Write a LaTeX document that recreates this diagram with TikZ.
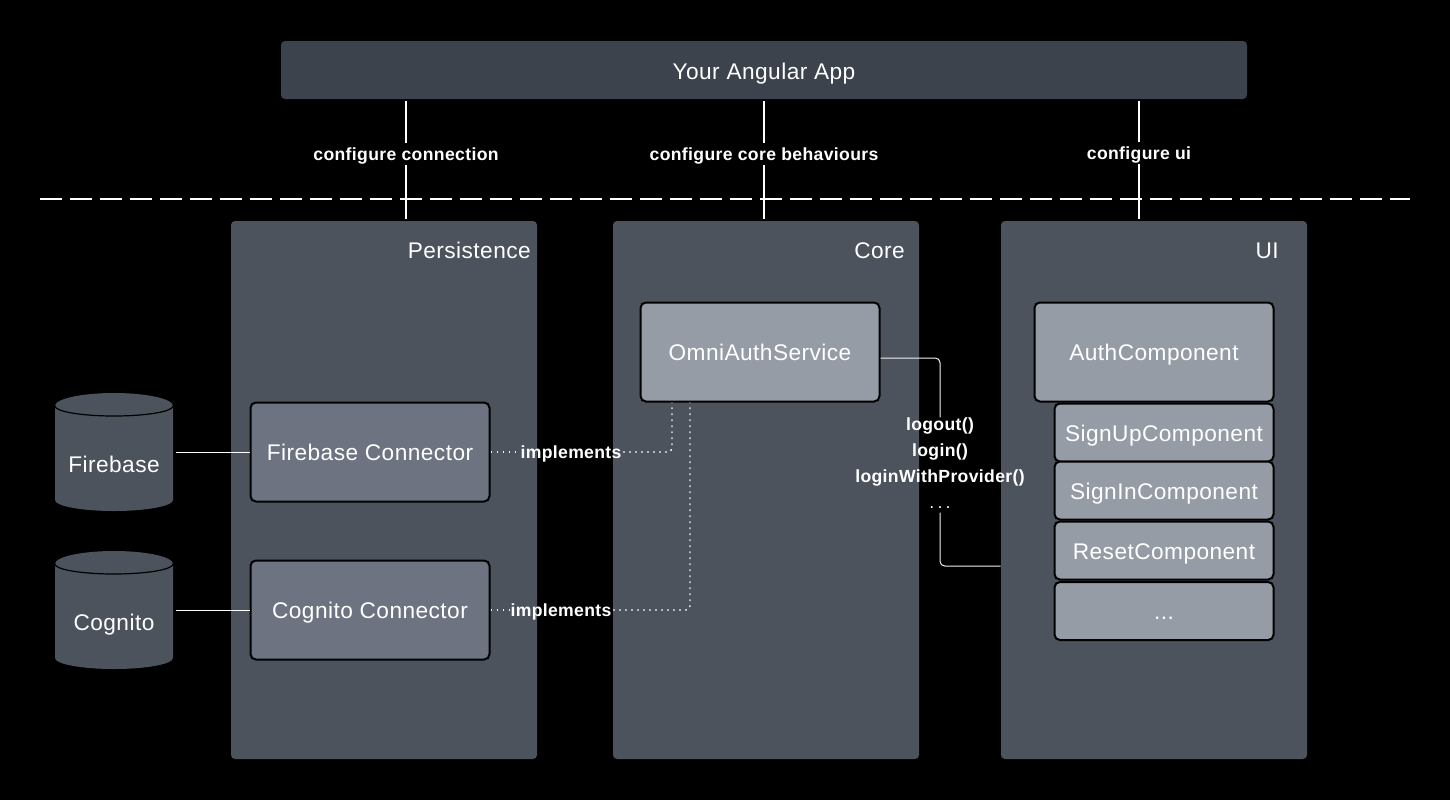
\documentclass[tikz,border=0pt]{standalone}
\usepackage{fontspec}
\setmainfont{Liberation Sans}
\newfontfamily\regfont[LetterSpace=2.0]{Liberation Sans}
\newfontfamily\boldfont[LetterSpace=2.0]{Liberation Sans Bold}
\definecolor{appc}{HTML}{3C434D}
\definecolor{panelc}{HTML}{4C535D}
\definecolor{connc}{HTML}{6D7380}
\definecolor{svcc}{HTML}{969CA6}
\definecolor{linec}{HTML}{F0F1F2}
\tikzset{
  sz/.style 2 args={minimum width=#1*0.75pt,minimum height=#2*0.75pt,inner sep=0pt},
  mainfont/.style={text=white,text height=12pt,text depth=0pt,font=\regfont\fontsize{17pt}{20pt}\selectfont},
  panelbox/.style={fill=panelc,rounded corners=3pt,sz={306}{538}},
  appbox/.style={fill=appc,rounded corners=3pt,sz={966}{58},mainfont,text height=13.5pt},
  inbox/.style={draw=black,line width=1.5pt,rounded corners=4pt,mainfont},
  connbox/.style={inbox,fill=connc,sz={239}{99}},
  svcbox/.style={inbox,fill=svcc,sz={239}{99}},
  subbox/.style={inbox,fill=svcc,sz={219}{#1},text height=13.5pt},
  paneltitle/.style={mainfont,anchor=east,inner sep=0pt},
  dbtext/.style={mainfont,inner sep=0pt},
  dbanchor/.style={sz={120}{118}},
  lab/.style={text=white,inner ysep=1.6pt,inner xsep=1pt,text height=11pt,text depth=1.5pt,font=\boldfont\fontsize{13.2pt}{19.5pt}\selectfont},
  methlab/.style={text=white,inner sep=0pt,align=center,font=\boldfont\fontsize{13.2pt}{19.5pt}\selectfont},
  solidline/.style={draw=white,line width=0.8pt},
  vline/.style={draw=white,line width=1.2pt},
  thinline/.style={draw=linec,line width=0.75pt,rounded corners=3.5pt},
  dottedline/.style={draw=linec,line width=1.1pt,dash pattern=on 1.3pt off 3.2pt,rounded corners=3pt},
}
\newcommand{\dbshape}[2]{% top y, centre x
  \fill[panelc] (#2-59,#1+13) arc[start angle=180,end angle=360,x radius=59,y radius=13]
    -- (#2+59,#1+107) arc[start angle=0,end angle=180,x radius=59,y radius=11] -- cycle;
  \draw[black,line width=0.9pt] (#2-59,#1+13) arc[start angle=180,end angle=0,x radius=59,y radius=10];
}
\begin{document}
\begin{tikzpicture}[x=0.75pt,y=-0.75pt]
\useasboundingbox[fill=black] (0,0) rectangle (1450,800);

\node[appbox] (app) at (764,70) {Your Angular App};
\node[panelbox] (persist) at (384,490) {};
\node[panelbox] (core) at (766,490) {};
\node[panelbox] (ui) at (1154,490) {};
\node[paneltitle] (ptitle) at (531,250) {Persistence};
\node[paneltitle] (ctitle) at (905,250) {Core};
\node[paneltitle] (utitle) at (1279,250) {UI};

\dbshape{393}{114}
\dbshape{551}{114}
\node[dbanchor] (fb) at (114,452) {};
\node[dbanchor] (cg) at (114,610) {};
\node[dbtext] (fbt) at (114,464) {Firebase};
\node[dbtext] (cgt) at (114,622) {Cognito};

\node[connbox] (fc) at (370,452) {Firebase Connector};
\node[connbox] (cc) at (370,610) {Cognito Connector};
\node[svcbox] (oas) at (760,352) {OmniAuthService};
\node[svcbox] (auth) at (1154,352) {AuthComponent};
\node[subbox=58] (su) at (1164,432.5) {SignUpComponent};
\node[subbox=58] (si) at (1164,490.5) {SignInComponent};
\node[subbox=58] (re) at (1164,550.5) {ResetComponent};
\node[subbox=58,text height=12pt] (more) at (1164,611) {...};

\draw[white,line width=1.5pt,dash pattern=on 16.5pt off 6pt] (40,199) coordinate (dl) -- (1410,199) coordinate (dr);

\node[lab] (l1) at (406,154) {configure connection};
\node[lab] (l2) at (764,154) {configure core behaviours};
\node[lab] (l3) at (1139,153) {configure ui};
\draw[vline] (l1.north) -- ([yshift=-1.5pt]l1.north |- app.south);
\draw[vline] (l1.south) -- ([yshift=1.5pt]l1.south |- persist.north);
\draw[vline] (l2.north) -- ([yshift=-1.5pt]l2.north |- app.south);
\draw[vline] (l2.south) -- ([yshift=1.5pt]l2.south |- core.north);
\draw[vline] (l3.north) -- ([yshift=-1.5pt]l3.north |- app.south);
\draw[vline] (l3.south) -- ([yshift=1.5pt]l3.south |- ui.north);

\draw[solidline] ([shift={(1.5pt,-0.4pt)}]fb.east) -- ([yshift=-0.4pt]fc.west);
\draw[solidline] ([shift={(1.5pt,-0.4pt)}]cg.east) -- ([yshift=-0.4pt]cc.west);

\node[lab] (i1) at (571,452) {implements};
\node[lab] (i2) at (561,610) {implements};
\draw[dottedline] (fc.east) -- (i1.west);
\draw[dottedline] (i1.east) -| ([xshift=-66pt]oas.south);
\draw[dottedline] (cc.east) -- (i2.west);
\draw[dottedline] (i2.east) -| ([xshift=-52.5pt]oas.south);

\node[methlab] (meth) at (940,463) {logout()\\ login()\\ loginWithProvider()\\ {\regfont .\hspace{2.4pt}.\hspace{2.4pt}.}};
\draw[thinline] ([yshift=-4.5pt]oas.east) -| (meth.north);
\draw[thinline] ([yshift=-3pt]meth.south) |- ([yshift=-57pt]ui.west);
\end{tikzpicture}
\end{document}
